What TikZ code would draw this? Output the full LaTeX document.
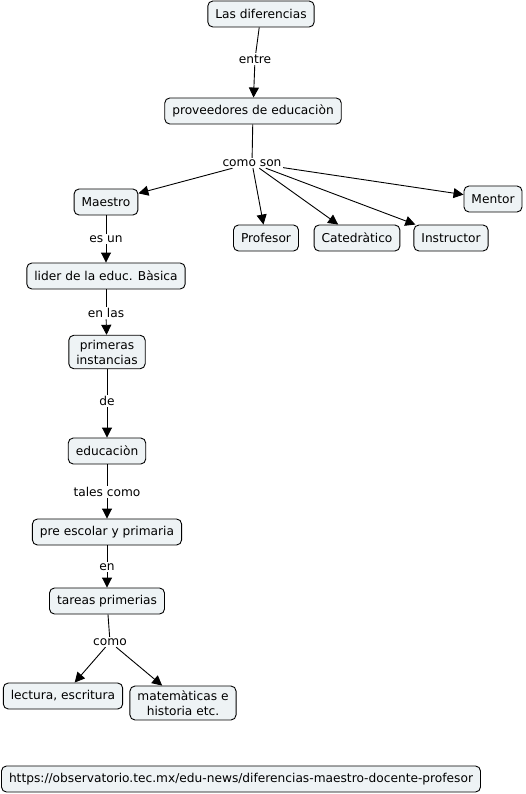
\documentclass[tikz,border=0pt]{standalone}
\usepackage{fontspec}
\setmainfont{DejaVu Sans}
\usetikzlibrary{arrows.meta}
\definecolor{boxfill}{RGB}{238,243,245}
\begin{document}
\begin{tikzpicture}[x=1pt,y=-1pt,
  concept/.style={draw=black, fill=boxfill, rounded corners=5pt, line width=0.9pt,
    inner xsep=7.5pt, inner ysep=4.5pt, minimum height=26pt, align=center,
    font=\fontsize{12.2}{15}\selectfont},
  linklabel/.style={fill=white, inner sep=1.5pt, font=\fontsize{12.2}{15}\selectfont},
  conn/.style={draw=black, line width=0.9pt},
  arr/.style={conn, -{Triangle[length=10pt,width=10pt]}}]
\useasboundingbox (0,0) rectangle (526,794);
\node[concept] (dif) at (261,14) {Las diferencias};
\node[linklabel] (entre) at (255,59) {entre};
\node[concept] (prov) at (253,111) {proveedores de educaciòn};
\node[linklabel] (comoson) at (252,163) {como son};
\node[concept] (maestro) at (106,202) {Maestro};
\node[concept] (profesor) at (266,238) {Profesor};
\node[concept] (cated) at (357,238) {Catedràtico};
\node[concept] (instr) at (451,238) {Instructor};
\node[concept] (mentor) at (493,199) {Mentor};
\node[linklabel] (esun) at (106,239) {es un};
\node[concept] (lider) at (106,276) {lider de la educ. Bàsica};
\node[linklabel] (enlas) at (106,313) {en las};
\node[concept] (prim) at (107,352) {primeras\\instancias};
\node[linklabel] (de) at (107,401) {de};
\node[concept] (educ) at (107,451) {educaciòn};
\node[linklabel] (tales) at (107,492) {tales como};
\node[concept] (pre) at (107,532) {pre escolar y primaria};
\node[linklabel] (en) at (107,567) {en};
\node[concept] (tareas) at (107,601) {tareas primerias};
\node[linklabel] (como) at (110,642) {como};
\node[concept] (lect) at (63,696) {lectura, escritura};
\node[concept] (mate) at (183,703) {matemàticas e\\historia etc.};
\node[concept] (url) at (241,779) {https://observatorio.tec.mx/edu-news/diferencias-maestro-docente-profesor};
\draw[conn] (dif) -- (entre);
\draw[arr] (entre) -- (prov);
\draw[conn] (prov) -- (comoson);
\draw[arr] (comoson) -- (maestro);
\draw[arr] (comoson) -- (profesor);
\draw[arr] (comoson) -- (cated);
\draw[arr] (comoson) -- (instr);
\draw[arr] (comoson) -- (mentor);
\draw[conn] (maestro) -- (esun);
\draw[arr] (esun) -- (lider);
\draw[conn] (lider) -- (enlas);
\draw[arr] (enlas) -- (prim);
\draw[conn] (prim) -- (de);
\draw[arr] (de) -- (educ);
\draw[conn] (educ) -- (tales);
\draw[arr] (tales) -- (pre);
\draw[conn] (pre) -- (en);
\draw[arr] (en) -- (tareas);
\draw[conn] (tareas) -- (como);
\draw[arr] (como) -- (lect);
\draw[arr] (como) -- (mate);
\end{tikzpicture}
\end{document}
